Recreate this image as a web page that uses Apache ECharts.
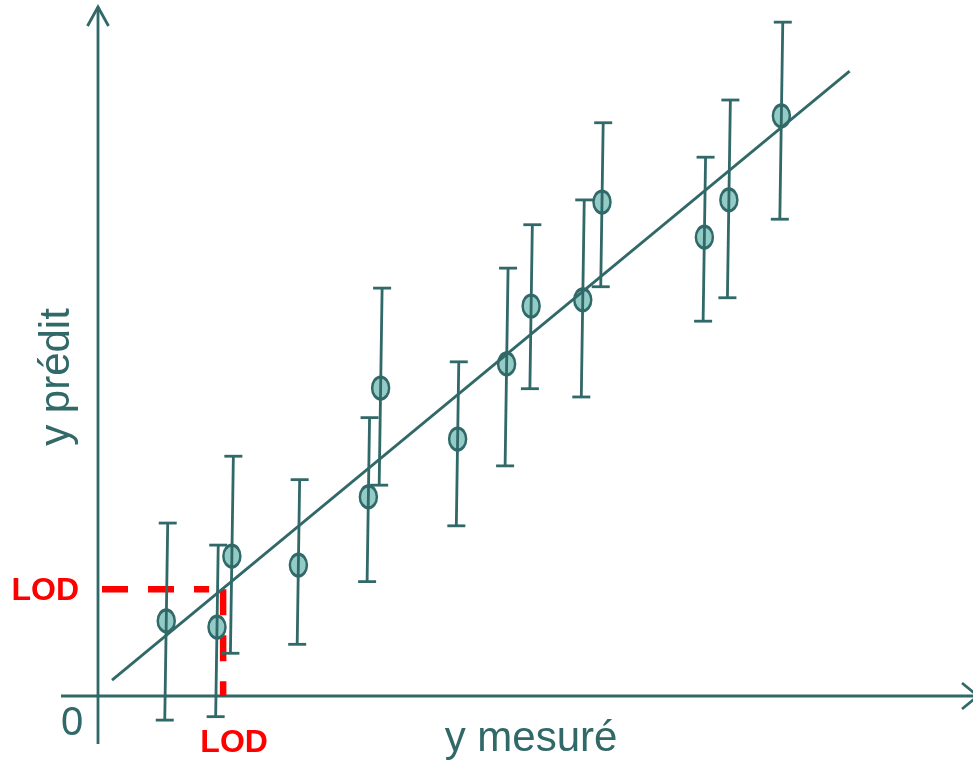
<!DOCTYPE html>
<html>
<head>
<meta charset="utf-8">
<script src="https://cdn.jsdelivr.net/npm/echarts@6/dist/echarts.min.js"></script>
<style>
  html, body { margin: 0; padding: 0; background: #fff; }
  #chart { width: 973px; height: 762px; }
</style>
</head>
<body>
<div id="chart"></div>
<script>
// mesures : x = y mesuré, y = y prédit, barres d'erreur basse / haute
const xMes = [0.78, 1.36, 1.53, 2.29, 3.09, 3.23, 4.11, 4.67, 4.95, 5.54, 5.76, 6.93, 7.21, 7.81]
const yPred = [1.09, 1.00, 2.03, 1.90, 2.89, 4.47, 3.73, 4.82, 5.66, 5.75, 7.17, 6.66, 7.20, 8.42]
const yLow = [-0.35, -0.30, 0.62, 0.75, 1.66, 3.06, 2.47, 3.34, 4.46, 4.34, 5.94, 5.44, 5.78, 6.92]
const yHigh = [2.51, 2.19, 3.48, 3.14, 4.04, 5.92, 4.85, 6.21, 6.84, 7.20, 8.32, 7.82, 8.65, 9.78]

// droite d'étalonnage (début / fin)
const fitX = [0.16, 8.59]
const fitY = [0.23, 9.07]

// limite de détection
const lodX = 1.43
const lodY = 1.55

const TEAL = '#316868'
const FILL = '#93cbc7'
const RED = '#ff0000'
const FONT = '"Liberation Sans", Arial, sans-serif'

const chart = echarts.init(document.getElementById('chart'))

const points = xMes.map((x, i) => [x, yPred[i]])
const bars = xMes.map((x, i) => [x, yPred[i], yLow[i], yHigh[i]])

const option = {
  animation: false,
  backgroundColor: '#fff',
  grid: { left: 98, right: 0, top: 7, bottom: 66 },
  xAxis: { type: 'value', min: 0, max: 10, show: false },
  yAxis: { type: 'value', min: 0, max: 10, show: false },
  graphic: [
    {
      type: 'text', x: 57, y: 377, rotation: Math.PI / 2,
      style: { text: 'y prédit', font: '42px ' + FONT, fill: TEAL, textAlign: 'center', textVerticalAlign: 'middle' }
    },
    {
      type: 'text', x: 531, y: 739,
      style: { text: 'y mesuré', font: '42px ' + FONT, fill: TEAL, textAlign: 'center', textVerticalAlign: 'middle' }
    },
    {
      type: 'text', x: 72, y: 724,
      style: { text: '0', font: '40px ' + FONT, fill: TEAL, textAlign: 'center', textVerticalAlign: 'middle' }
    }
  ],
  series: [
    // axes avec flèches
    {
      type: 'custom',
      silent: true,
      clip: false,
      z: 1,
      data: [[0, 0]],
      renderItem: (params, api) => {
        const o = api.coord([0, 0])
        const top = api.coord([0, 10])
        const right = params.coordSys.x + params.coordSys.width
        const st = { stroke: TEAL, lineWidth: 2.8, fill: null }
        return {
          type: 'group',
          children: [
            { type: 'line', shape: { x1: o[0] - 37, y1: o[1], x2: right + 5, y2: o[1] }, style: st },
            { type: 'polyline', shape: { points: [[right - 11, o[1] - 13], [right + 5, o[1]], [right - 11, o[1] + 13]] }, style: st },
            { type: 'line', shape: { x1: o[0], y1: o[1] + 48, x2: o[0], y2: top[1] }, style: st },
            { type: 'polyline', shape: { points: [[o[0] - 10.5, top[1] + 19], [o[0], top[1]], [o[0] + 10.5, top[1] + 19]] }, style: st }
          ]
        }
      }
    },
    // LOD
    {
      type: 'custom',
      silent: true,
      clip: false,
      z: 2,
      data: [[lodX, lodY]],
      renderItem: (params, api) => {
        const p = api.coord([api.value(0), api.value(1)])
        const o = api.coord([0, 0])
        const st = { stroke: RED, lineWidth: 6.5, lineDash: [26, 20], fill: null }
        const font = 'bold 32px ' + FONT
        return {
          type: 'group',
          children: [
            { type: 'line', shape: { x1: o[0] + 4, y1: p[1], x2: p[0] - 14, y2: p[1] }, style: st },
            { type: 'line', shape: { x1: p[0], y1: p[1], x2: p[0], y2: o[1] }, style: st },
            { type: 'text', style: { text: 'LOD', x: o[0] - 19, y: p[1] + 2, font, fill: RED, textAlign: 'right', textVerticalAlign: 'middle' } },
            { type: 'text', style: { text: 'LOD', x: p[0] + 11, y: o[1] + 47, font, fill: RED, textAlign: 'center', textVerticalAlign: 'middle' } }
          ]
        }
      }
    },
    // points
    {
      type: 'scatter',
      z: 3,
      data: points,
      symbol: 'circle',
      symbolSize: [17, 22],
      itemStyle: { color: FILL, borderColor: TEAL, borderWidth: 2.8, opacity: 1 }
    },
    // barres d'erreur
    {
      type: 'custom',
      silent: true,
      clip: false,
      z: 4,
      data: bars,
      renderItem: (params, api) => {
        const c = api.coord([api.value(0), api.value(1)])
        const hi = api.coord([api.value(0), api.value(3)])
        const lo = api.coord([api.value(0), api.value(2)])
        const tilt = 0.015
        const xt = c[0] + (c[1] - hi[1]) * tilt
        const xb = c[0] - (lo[1] - c[1]) * tilt
        const st = { stroke: TEAL, lineWidth: 2.8 }
        return {
          type: 'group',
          children: [
            { type: 'line', shape: { x1: xt, y1: hi[1], x2: xb, y2: lo[1] }, style: st },
            { type: 'line', shape: { x1: xt - 9, y1: hi[1], x2: xt + 9, y2: hi[1] }, style: st },
            { type: 'line', shape: { x1: xb - 9, y1: lo[1], x2: xb + 9, y2: lo[1] }, style: st }
          ]
        }
      }
    },
    // droite
    {
      type: 'line',
      z: 5,
      silent: true,
      showSymbol: false,
      data: fitX.map((x, i) => [x, fitY[i]]),
      lineStyle: { color: TEAL, width: 2.8 }
    }
  ]
}

chart.setOption(option)
</script>
</body>
</html>
